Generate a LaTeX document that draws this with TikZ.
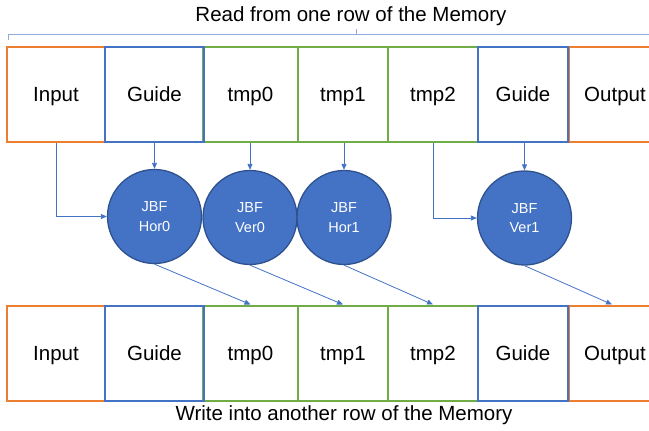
\documentclass[tikz,border=0pt]{standalone}
\usepackage{fontspec}
\setmainfont{Liberation Sans}
\usetikzlibrary{arrows.meta}
\definecolor{orng}{HTML}{ED7D31}
\definecolor{blu}{HTML}{4472C4}
\definecolor{grn}{HTML}{70AD47}
\definecolor{bluedge}{HTML}{2F528F}
\definecolor{brace}{HTML}{8FAADC}
\tikzset{
  cell/.style={draw=#1, line width=2pt, minimum height=95pt, inner sep=0pt,
               text height=14.7pt, text depth=0pt, font=\fontsize{20.5}{23}\selectfont},
  jbf/.style={circle, draw=bluedge, line width=1.3pt, fill=blu, minimum size=94pt, inner sep=0pt,
              text=white, align=center, font=\fontsize{14.5}{19.5}\selectfont},
  link/.style={draw=blu, line width=0.8pt, -{Triangle[length=6pt,width=5pt]}},
  caption/.style={font=\fontsize{20.5}{23}\selectfont}
}
\begin{document}
\begin{tikzpicture}[x=1pt,y=-1pt]
\useasboundingbox (0,0) rectangle (649,431);
% memory rows: read row (top) and write row (bottom)
\foreach \r/\y in {t/94.5, b/353} {
  \node[cell=orng, minimum width=98pt]  (\r in)  at (56,\y)    {Input};
  \node[cell=orng, minimum width=92pt, anchor=west] (\r out) at (568,\y) {Output};
  \node[cell=grn,  minimum width=95pt]  (\r t0)  at (250.5,\y) {tmp0};
  \node[cell=grn,  minimum width=90pt]  (\r t1)  at (343,\y)   {tmp1};
  \node[cell=grn,  minimum width=90pt]  (\r t2)  at (433,\y)   {tmp2};
  \node[cell=blu,  minimum width=99pt]  (\r g0)  at (154.5,\y) {Guide};
  \node[cell=blu,  minimum width=90pt]  (\r g1)  at (523,\y)   {Guide};
}
% captions and the brace over the read row
\node[caption] (rd) at (351,16) {Read from one row of the Memory};
\node[caption] (wr) at (344,415) {Write into another row of the Memory};
\draw[brace, line width=1pt] (8,40) -- (8,34.5) -- (649,34.5);
\draw[brace, line width=1pt] (356,34.5) -- (356,28.5);
% joint bilateral filter stages
\node[jbf] (h0) at (154.5,216.5) {JBF\\Hor0};
\node[jbf] (v0) at (250,217.5)   {JBF\\Ver0};
\node[jbf] (h1) at (344,217.5)   {JBF\\Hor1};
\node[jbf] (v1) at (524.5,218)   {JBF\\Ver1};
% reads
\draw[link] (tin.south) |- (h0.west);
\draw[link] (tg0.south) -- (h0.north);
\draw[link] (tt0.south -| v0.north) -- (v0.north);
\draw[link] (tt1.south -| h1.north) -- (h1.north);
\draw[link] (tt2.south) |- (v1.west);
\draw[link] (tg1.south -| v1.north) -- (v1.north);
% writes
\draw[link] (h0.south) -- (bt0.north);
\draw[link] (v0.south) -- (bt1.north);
\draw[link] (h1.south) -- (bt2.north);
\draw[link] (v1.south) -- (bout.north -| 612,0);
\end{tikzpicture}
\end{document}
